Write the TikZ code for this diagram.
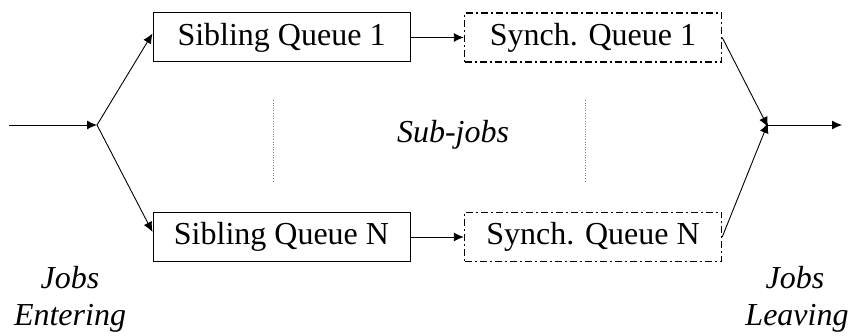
\documentclass[tikz,border=0pt]{standalone}
\usepackage{fontspec}
\setmainfont{Liberation Serif}
\usetikzlibrary{arrows.meta}
\begin{document}
\begin{tikzpicture}[x=1pt,y=-1pt,
  box/.style={draw,line width=1pt,minimum width=257pt,minimum height=49pt,inner sep=0pt,font=\fontsize{32}{38}\selectfont},
  sbox/.style={box,line width=1.4pt,dash pattern=on 7pt off 3pt on 2pt off 3pt},
  arr/.style={line width=0.9pt,-{Latex[length=10pt,width=9pt]}},
  lab/.style={font=\fontsize{32}{38}\selectfont\itshape,inner sep=0pt},
  sep/.style={gray,dotted,line width=0.6pt}]
\useasboundingbox (0,0) rectangle (853,336);
\node[box] (sib1) at (281.5,37.5) {Sibling Queue 1};
\node[box] (sibN) at (281.5,237) {Sibling Queue N};
\node[sbox] (syn1) at (593,37.5) {Synch. Queue 1};
\node[sbox] (synN) at (593,237) {Synch. Queue N};
\coordinate (in) at (9,125);
\coordinate (split) at (97,125);
\coordinate (join) at (768,125);
\coordinate (out) at (842,125);
\draw[arr] (in) -- (split);
\draw[arr] (split) -- ([yshift=4pt]sib1.west);
\draw[arr] (split) -- ([yshift=5pt]sibN.west);
\draw[arr] (sib1) -- (syn1);
\draw[arr] (sibN) -- (synN);
\draw[arr] (syn1.east) -- ([yshift=-2pt]join);
\draw[arr] (synN.east) -- ([yshift=2pt]join);
\draw[arr] (join) -- (out);
\coordinate (d1a) at (273,100); \coordinate (d1b) at (273,181);
\coordinate (d2a) at (585,100); \coordinate (d2b) at (585,181);
\draw[sep] (d1a) -- (d1b);
\draw[sep] (d2a) -- (d2b);
\node[lab] (sub) at (453,135) {Sub-jobs};
\node[lab] (je1) at (70,278) {Jobs};
\node[lab] (je2) at (70,318) {Entering};
\node[lab] (jl1) at (795,278) {Jobs};
\node[lab] (jl2) at (797,318) {Leaving};
\end{tikzpicture}
\end{document}
